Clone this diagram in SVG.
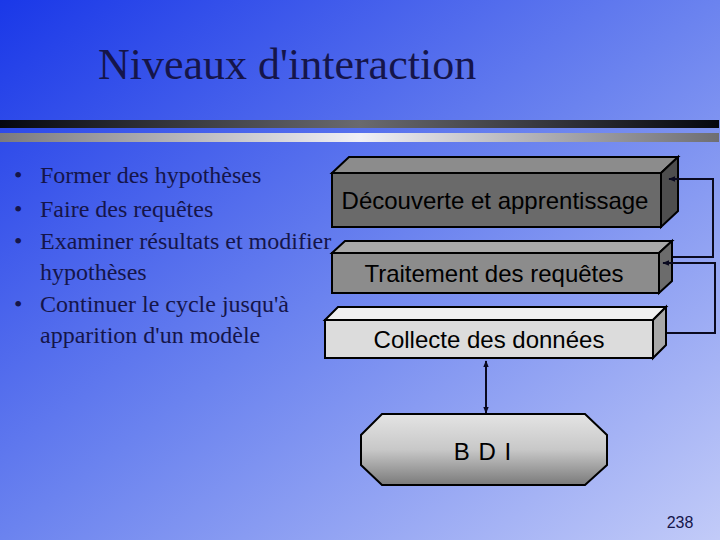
<svg xmlns="http://www.w3.org/2000/svg" width="720" height="540" viewBox="0 0 720 540">
<defs>
<linearGradient id="bg" x1="0" y1="0" x2="1" y2="1">
<stop offset="0" stop-color="#1a38e8"/>
<stop offset="0.5" stop-color="#6b83ef"/>
<stop offset="1" stop-color="#c2cbf8"/>
</linearGradient>
<linearGradient id="bar1" x1="0" y1="0" x2="1" y2="0">
<stop offset="0" stop-color="#05070f"/>
<stop offset="0.5" stop-color="#6a6a6e"/>
<stop offset="1" stop-color="#05070f"/>
</linearGradient>
<linearGradient id="bar2" x1="0" y1="0" x2="1" y2="0">
<stop offset="0" stop-color="#7a7a7e"/>
<stop offset="0.5" stop-color="#f0f0f6"/>
<stop offset="1" stop-color="#6e6e72"/>
</linearGradient>
<linearGradient id="bdi" x1="0" y1="0" x2="0" y2="1">
<stop offset="0" stop-color="#e4e4e4"/>
<stop offset="0.5" stop-color="#c8c8c8"/>
<stop offset="1" stop-color="#7a7a7a"/>
</linearGradient>
<marker id="ah" viewBox="0 0 10 10" refX="9" refY="5" markerWidth="7" markerHeight="7" orient="auto-start-reverse" markerUnits="userSpaceOnUse">
<path d="M0,1 L10,5 L0,9 z" fill="#0a0a20"/>
</marker>
<style>
.bul{font-family:"Liberation Serif","Times New Roman",serif;font-size:24px;fill:#15154a}
.bx{font-family:"Liberation Sans",Arial,sans-serif;font-size:24px;fill:#000;text-anchor:middle}
.edge{stroke:#000;stroke-width:2;stroke-linejoin:miter}
.conn{fill:none;stroke:#0a0a20;stroke-width:2}
</style>
</defs>
<rect width="720" height="540" fill="url(#bg)"/>
<text x="98" y="79" font-family="Liberation Serif,'Times New Roman',serif" font-size="44" fill="#15154a">Niveaux d'interaction</text>
<rect x="0" y="120" width="719" height="8" fill="url(#bar1)"/>
<rect x="0" y="133" width="719" height="9" fill="url(#bar2)"/>
<g id="bullets">
<text class="bul" x="14" y="183">•</text><text class="bul" x="40" y="183">Former des hypothèses</text>
<text class="bul" x="14" y="217">•</text><text class="bul" x="40" y="217">Faire des requêtes</text>
<text class="bul" x="14" y="249">•</text><text class="bul" x="40" y="249">Examiner résultats et modifier</text>
<text class="bul" x="40" y="280">hypothèses</text>
<text class="bul" x="14" y="312">•</text><text class="bul" x="40" y="312">Continuer le cycle jusqu'à</text>
<text class="bul" x="40" y="343">apparition d'un modèle</text>
</g>
<g id="decouverte">
<polygon class="edge" points="332,173 349,157 678,157 661,173" fill="#8c8c8c"/>
<polygon class="edge" points="661,173 678,157 678,211 661,227" fill="#4e4e4e"/>
<rect class="edge" x="332" y="173" width="329" height="54" fill="#6a6a6a"/>
<text class="bx" x="495" y="209">Découverte et apprentissage</text>
</g>
<g id="traitement">
<polygon class="edge" points="332,253 345,241 672,241 659,253" fill="#a8a8a8"/>
<polygon class="edge" points="659,253 672,241 672,281 659,293" fill="#6c6c6c"/>
<rect class="edge" x="332" y="253" width="327" height="40" fill="#8c8c8c"/>
<text class="bx" x="494" y="282">Traitement des requêtes</text>
</g>
<g id="collecte">
<polygon class="edge" points="325,320 338,307 666,307 653,320" fill="#f0f0f0"/>
<polygon class="edge" points="653,320 666,307 666,345 653,358" fill="#a8a8a8"/>
<rect class="edge" x="325" y="320" width="328" height="38" fill="#dcdcdc"/>
<text class="bx" x="489" y="348">Collecte des données</text>
</g>
<g id="bdi">
<polygon class="edge" points="382,414 585,414 607,435 607,465 585,485 382,485 361,465 361,435" fill="url(#bdi)"/>
<text class="bx" x="483" y="460" font-size="23" letter-spacing="1">B D I</text>
</g>
<g id="connectors">
<polyline class="conn" points="673,257 713,257 713,179 669,179" marker-end="url(#ah)"/>
<polyline class="conn" points="667,333 715,333 715,263 663,263" marker-end="url(#ah)"/>
<line class="conn" x1="486" y1="361" x2="486" y2="413" marker-start="url(#ah)" marker-end="url(#ah)"/>
</g>
<text x="680" y="528" font-family="Liberation Sans,Arial,sans-serif" font-size="16" fill="#15154a" text-anchor="middle">238</text>
</svg>
